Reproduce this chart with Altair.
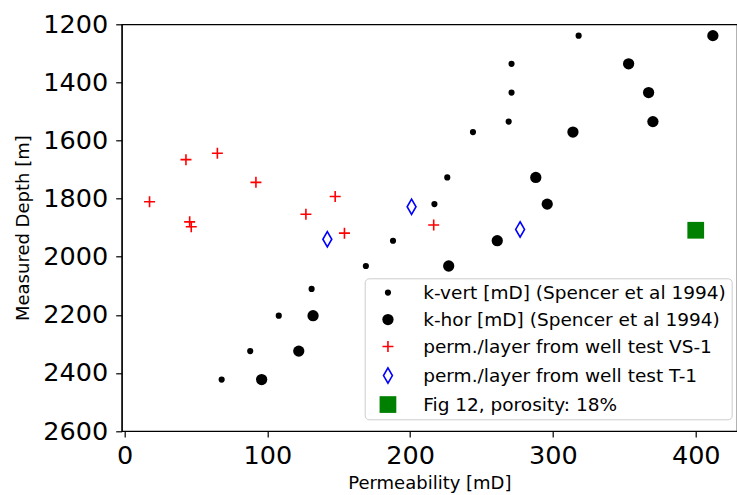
import altair as alt
import pandas as pd

# --- data ---
kvert_perm = [318, 271, 271, 269, 244, 226, 217, 188, 169, 131, 108, 88, 68]
kvert_depth = [1239, 1336, 1435, 1535, 1571, 1727, 1819, 1945, 2032, 2111, 2203, 2325, 2423]

khor_perm = [412, 353, 367, 370, 314, 288, 296, 261, 227, 132, 122, 96]
khor_depth = [1239, 1336, 1435, 1535, 1571, 1727, 1819, 1945, 2032, 2203, 2325, 2423]

vs1_perm = [17.5, 43, 65, 92, 45.6, 46.7, 127, 147.5, 154, 216.5]
vs1_depth = [1811, 1666, 1644, 1744, 1880, 1897, 1854, 1793, 1919, 1891]

t1_perm = [142, 201, 277]
t1_depth = [1940, 1828, 1906]

fig12_perm = [400]
fig12_depth = [1909]

series_names = [
    "k-vert [mD] (Spencer et al 1994)",
    "k-hor [mD] (Spencer et al 1994)",
    "perm./layer from well test VS-1",
    "perm./layer from well test T-1",
    "Fig 12, porosity: 18%",
]

x_ticks = [0, 100, 200, 300, 400]
y_ticks = [1200, 1400, 1600, 1800, 2000, 2200, 2400, 2600]

rows = []
for name, xs, ys in zip(
    series_names,
    [kvert_perm, khor_perm, vs1_perm, t1_perm, fig12_perm],
    [kvert_depth, khor_depth, vs1_depth, t1_depth, fig12_depth],
):
    for xv, yv in zip(xs, ys):
        rows.append({"series": name, "perm": xv, "depth": yv})
df = pd.DataFrame(rows)

plus_path = "M-1,0H1M0,-1V1"
thin_diamond = "M0,-1L0.58,0L0,1L-0.58,0Z"

legend = alt.Legend(
    title=None,
    orient="none",
    legendX=243,
    legendY=254,
    padding=5,
    symbolOffset=9,
    labelFont="DejaVu Sans",
    labelFontSize=18.5,
    labelColor="black",
    labelLimit=500,
    labelOffset=26,
    rowPadding=8,
    strokeColor="#cccccc",
    fillColor="rgba(255,255,255,0.85)",
    cornerRadius=4,
    symbolOpacity=1,
)

dom = series_names
chart = (
    alt.Chart(df)
    .mark_point(opacity=1, fillOpacity=1, strokeOpacity=1)
    .encode(
        x=alt.X(
            "perm:Q",
            scale=alt.Scale(domain=[-2, 428.9], nice=False, zero=False),
            axis=alt.Axis(values=x_ticks, title="Permeability [mD]", format="d",
                          labelPadding=6, titlePadding=6),
        ),
        y=alt.Y(
            "depth:Q",
            scale=alt.Scale(domain=[1200, 2600], reverse=True, nice=False, zero=False),
            axis=alt.Axis(values=y_ticks, title="Measured Depth [m]", format="d",
                          labelPadding=8, titlePadding=10),
        ),
        shape=alt.Shape(
            "series:N",
            scale=alt.Scale(domain=dom, range=["circle", "circle", plus_path, thin_diamond, "square"]),
            legend=legend,
        ),
        fill=alt.Fill(
            "series:N",
            scale=alt.Scale(domain=dom, range=["black", "black", "transparent", "transparent", "green"]),
            legend=legend,
        ),
        stroke=alt.Stroke(
            "series:N",
            scale=alt.Scale(domain=dom, range=["black", "black", "red", "blue", "green"]),
            legend=legend,
        ),
        strokeWidth=alt.StrokeWidth(
            "series:N",
            scale=alt.Scale(type="ordinal", domain=dom, range=[0, 0, 1.6, 1.6, 0]),
            legend=legend,
        ),
        size=alt.Size(
            "series:N",
            scale=alt.Scale(type="ordinal", domain=dom, range=[38, 127, 121, 235, 280]),
            legend=legend,
        ),
    )
    .properties(
        width=615.3,
        height=406.7,
        autosize=alt.AutoSizeParams(type="none"),
        padding={"left": 121.7, "top": 24.3, "right": 0, "bottom": 64},
    )
    .configure_view(stroke="black", strokeWidth=1.2)
    .configure_axis(
        grid=False,
        domainColor="black",
        domainWidth=1.2,
        tickColor="black",
        tickWidth=1.2,
        tickSize=6,
        labelFont="DejaVu Sans",
        labelFontSize=25.5,
        labelColor="black",
        titleFont="DejaVu Sans",
        titleFontSize=18,
        titleFontWeight="normal",
        titleColor="black",
    )
)

chart.save("out.html", embed_options={"renderer": "svg", "actions": False})
